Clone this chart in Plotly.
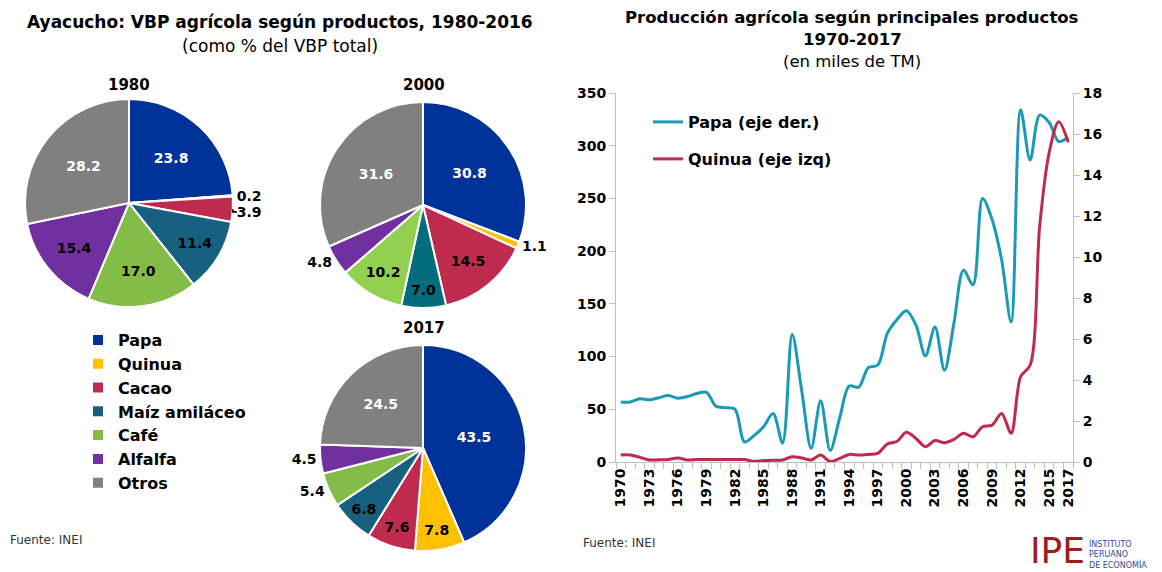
import plotly.graph_objects as go

# ---------------- data ----------------
productos = ["Papa", "Quinua", "Cacao", "Maíz amiláceo", "Café", "Alfalfa", "Otros"]
vbp_1980 = [23.8, 0.2, 3.9, 11.4, 17.0, 15.4, 28.2]
vbp_2000 = [30.8, 1.1, 14.5, 7.0, 10.2, 4.8, 31.6]
vbp_2017 = [43.5, 7.8, 7.6, 6.8, 5.4, 4.5, 24.5]

years = list(range(1970, 2018))
papa = [57, 57, 60, 59, 61, 63, 60.5, 62, 65, 66,
        53, 51.5, 50, 19, 25, 33.5, 46, 18, 121, 68,
        13, 58, 11, 42, 72, 71, 89.5, 92, 122, 135,
        143.5, 130, 100.5, 128, 87, 132, 182, 168, 250, 230,
        192, 133, 334, 286.5, 329, 322, 304, 308]
quinua = [0.34, 0.34, 0.23, 0.1, 0.11, 0.12, 0.2, 0.1, 0.12, 0.12,
          0.12, 0.12, 0.12, 0.12, 0.03, 0.07, 0.09, 0.1, 0.26, 0.2,
          0.1, 0.34, 0.02, 0.18, 0.37, 0.34, 0.37, 0.42, 0.88, 1.0,
          1.45, 1.15, 0.75, 1.05, 0.94, 1.1, 1.4, 1.23, 1.72, 1.8,
          2.37, 1.4, 4.16, 4.73, 11.5, 15.1, 16.6, 15.6]
xtick_years = [1970, 1973, 1976, 1979, 1982, 1985, 1988, 1991, 1994, 1997,
               2000, 2003, 2006, 2009, 2012, 2015, 2017]

colores_pie = ["#003399", "#FFC000", "#BE2B4E", "#17607F", "#84BC48", "#7030A0", "#808080"]
colores_2000 = ["#003399", "#FFC000", "#BE2B4E", "#046D7D", "#92D050", "#7030A0", "#808080"]

# the page body has an 8px margin, so the figure is drawn 8px in from the corner
OFF = 8
W, H = 1162 - OFF, 572 - OFF
FONT = "DejaVu Sans"


def px(x):
    return (x - OFF) / W


def py(y):
    return 1 - (y - OFF) / H


fig = go.Figure()


def add_pie(vals, box, cols, pos, txtcol, show):
    x0, y0, x1, y1 = box
    fig.add_trace(go.Pie(
        labels=productos, values=vals, sort=False, direction="clockwise", rotation=0,
        marker=dict(colors=cols, line=dict(color="white", width=2)),
        texttemplate="%{value:.1f}", textposition=pos,
        textfont=dict(family=FONT, size=14, color=txtcol, weight="bold"),
        outsidetextfont=dict(family=FONT, size=14, color="black", weight="bold"),
        domain=dict(x=[px(x0), px(x1)], y=[py(y1), py(y0)]),
        showlegend=show, legend="legend", hoverinfo="label+value",
        automargin=False,
    ))


add_pie(vbp_1980, (22, 99, 236, 307), colores_pie,
        ["inside", "outside", "outside", "inside", "inside", "inside", "inside"],
        ["white", "black", "black", "black", "black", "black", "white"], True)
add_pie(vbp_2000, (319, 102, 527, 308), colores_2000,
        ["inside", "outside", "inside", "inside", "inside", "outside", "inside"],
        ["white", "black", "black", "black", "black", "black", "white"], False)
add_pie(vbp_2017, (319, 345, 527, 551), colores_pie,
        ["inside", "inside", "inside", "inside", "outside", "outside", "inside"],
        ["white", "black", "black", "black", "black", "black", "white"], False)

# ---------------- line chart ----------------
fig.add_trace(go.Scatter(
    x=years, y=papa, mode="lines", name="Papa (eje der.)",
    line=dict(color="#1A9AB5", width=3, shape="spline", smoothing=0.9),
    legend="legend2", yaxis="y",
))
fig.add_trace(go.Scatter(
    x=years, y=quinua, mode="lines", name="Quinua (eje izq)",
    line=dict(color="#BE2B4E", width=3, shape="spline", smoothing=0.9),
    legend="legend3", yaxis="y2",
))

tickfont = dict(family=FONT, size=14, color="black", weight="bold")
legfont = dict(family=FONT, size=16, color="black", weight="bold")
fig.update_layout(
    xaxis=dict(domain=[px(616), px(1073)], range=[1969.5, 2017.5],
               tickvals=xtick_years, tickangle=-90, ticks="", tickfont=tickfont,
               showgrid=False, zeroline=False, showline=True, linecolor="#BFBFBF",
               minor=dict(tick0=1969.5, dtick=1, ticks="outside", ticklen=6,
                          tickcolor="#BFBFBF", showgrid=False),
               anchor="y", automargin=False),
    yaxis=dict(domain=[py(462), py(93)], range=[0, 350], dtick=50,
               ticks="outside", ticklen=6, tickcolor="#BFBFBF", tickfont=tickfont,
               showgrid=False, zeroline=False, showline=True, linecolor="#BFBFBF",
               anchor="x", automargin=False),
    yaxis2=dict(domain=[py(462), py(93)], range=[0, 18], dtick=2, overlaying="y",
                side="right", ticks="outside", ticklen=6, tickcolor="#BFBFBF",
                tickfont=tickfont, showgrid=False, zeroline=False, showline=True,
                linecolor="#BFBFBF", anchor="x", automargin=False),
    legend=dict(x=px(78), y=py(323), xanchor="left", yanchor="top",
                font=legfont, tracegroupgap=0, bgcolor="rgba(0,0,0,0)"),
    legend2=dict(x=px(648), y=py(122), xanchor="left", yanchor="middle",
                 font=legfont, itemwidth=30, bgcolor="rgba(0,0,0,0)"),
    legend3=dict(x=px(648), y=py(159), xanchor="left", yanchor="middle",
                 font=legfont, itemwidth=30, bgcolor="rgba(0,0,0,0)"),
    width=W, height=H, margin=dict(l=0, r=0, t=0, b=0, autoexpand=False),
    paper_bgcolor="white", plot_bgcolor="white",
    font=dict(family=FONT, color="black"),
)

ann = [
    ("<b>Ayacucho: VBP agrícola según productos, 1980-2016</b>", 280, 22, 17),
    ("(como % del VBP total)", 280, 46, 17),
    ("<b>1980</b>", 129, 85, 15),
    ("<b>2000</b>", 424, 85, 15),
    ("<b>2017</b>", 424, 328, 15),
    ("<b>Producción agrícola según principales productos</b>", 852, 18, 16.5),
    ("<b>1970-2017</b>", 852, 40, 16.5),
    ("(en miles de TM)", 852, 62, 16.5),
]
for text, x, y, size in ann:
    fig.add_annotation(text=text, x=px(x), y=py(y), xref="paper", yref="paper",
                       showarrow=False, xanchor="center", yanchor="middle",
                       font=dict(family=FONT, size=size, color="black"))

fig.add_annotation(text="Fuente: INEI", x=px(8), y=py(540), xref="paper", yref="paper",
                   showarrow=False, xanchor="left", yanchor="middle",
                   font=dict(family=FONT, size=12, color="#333333"))
fig.add_annotation(text="Fuente: INEI", x=px(581), y=py(543), xref="paper", yref="paper",
                   showarrow=False, xanchor="left", yanchor="middle",
                   font=dict(family=FONT, size=12, color="#333333"))
fig.add_annotation(text="IPE", x=px(1086), y=py(572), xref="paper", yref="paper",
                   showarrow=False, xanchor="right", yanchor="bottom", borderpad=0,
                   font=dict(family="DejaVu Sans", size=36, color="#A01C1C"))
fig.add_annotation(text="INSTITUTO<br>PERUANO<br>DE ECONOMÍA", x=px(1088), y=py(571),
                   xref="paper", yref="paper", showarrow=False, xanchor="left",
                   yanchor="bottom", align="left", borderpad=0,
                   font=dict(family="DejaVu Sans", size=8, color="#2E4A9E"))

fig.write_html("out.html")
